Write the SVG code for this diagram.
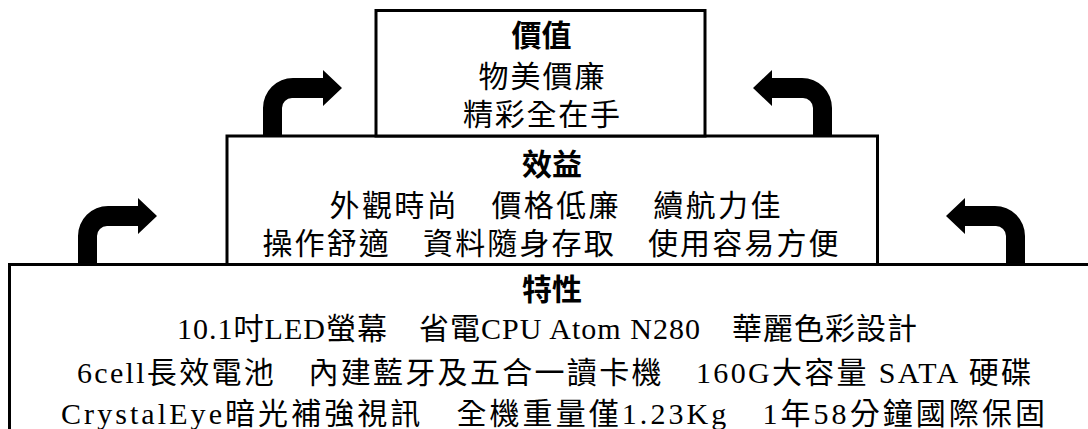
<svg xmlns="http://www.w3.org/2000/svg" xmlns:xlink="http://www.w3.org/1999/xlink" width="1088" height="429" viewBox="0 0 1088 429">
<style>
.box{fill:#fff;stroke:#000;stroke-width:3}
.t{font-family:"Liberation Serif","Noto Sans CJK TC",sans-serif;font-size:30px;fill:#000}
.h{font-family:"Noto Sans CJK TC",sans-serif;font-size:30px;font-weight:bold;fill:#000;text-anchor:middle}
.arrow{fill:#000}
</style>
<defs>
<path id="turn" d="M0,0 V-28 A30,30 0 0 1 30,-58 H60 V-66 L79,-48 L60,-30 V-38 H29 A10,10 0 0 0 19,-28 V0 Z"/>
</defs>
<rect width="1088" height="429" fill="#fff"/>
<g id="connectors" class="arrow">
<use xlink:href="#turn" transform="translate(78,264)"/>
<use xlink:href="#turn" transform="translate(1025,264) scale(-1,1)"/>
<use xlink:href="#turn" transform="translate(263,136)"/>
<use xlink:href="#turn" transform="translate(832,136) scale(-1,1)"/>
</g>
<g id="feature">
<rect class="box" x="9.5" y="264.5" width="1090" height="200"/>
<text class="h" x="552" y="300">特性</text>
<text class="t" x="177" y="339" textLength="740" lengthAdjust="spacing">10.1吋LED螢幕　省電CPU Atom N280　華麗色彩設計</text>
<text class="t" x="77" y="383" textLength="954" lengthAdjust="spacing">6cell長效電池　內建藍牙及五合一讀卡機　160G大容量 SATA 硬碟</text>
<text class="t" x="61" y="424" textLength="984" lengthAdjust="spacing">CrystalEye暗光補強視訊　全機重量僅1.23Kg　1年58分鐘國際保固</text>
</g>
<g id="benefit">
<rect class="box" x="227" y="136" width="650.5" height="128.5"/>
<text class="h" x="552" y="175">效益</text>
<text class="t" x="329.5" y="216" textLength="451" lengthAdjust="spacing">外觀時尚　價格低廉　續航力佳</text>
<text class="t" x="262.5" y="253.5" textLength="576" lengthAdjust="spacing">操作舒適　資料隨身存取　使用容易方便</text>
</g>
<g id="value">
<rect class="box" x="376" y="10.5" width="329" height="125.5"/>
<text class="h" x="541.5" y="46">價值</text>
<text class="t" x="478.5" y="86.5" textLength="126" lengthAdjust="spacing">物美價廉</text>
<text class="t" x="463" y="125" textLength="157" lengthAdjust="spacing">精彩全在手</text>
</g>
</svg>
